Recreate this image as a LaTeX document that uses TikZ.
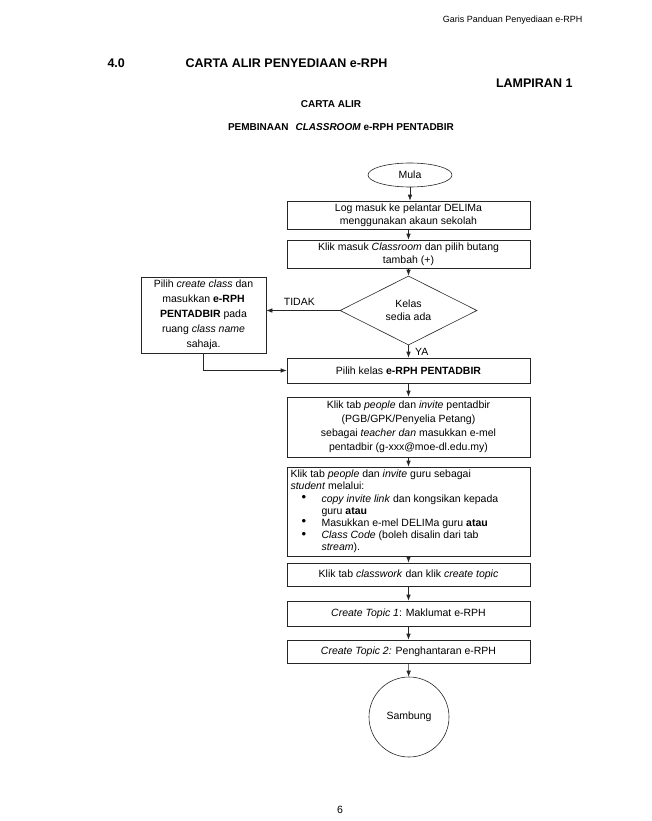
\documentclass[tikz,border=0pt]{standalone}
\usepackage{fontspec}
\setmainfont{Liberation Sans}
\usetikzlibrary{shapes.geometric,arrows.meta}
\newcommand{\bigbul}{\raisebox{0.5pt}{\fontsize{13}{13}\selectfont\textbullet}}
\begin{document}
\begin{tikzpicture}[x=1pt,y=-1pt,
  every node/.style={font=\fontsize{10.5}{13}\selectfont},
  procbox/.style={draw=black!85,line width=0.6pt,rectangle,inner sep=0pt,minimum width=243pt,align=center},
  conn/.style={draw=black!85,line width=0.6pt,-{Latex[length=6pt,width=4.5pt]}},
  titlefont/.style={font=\fontsize{12.5}{15}\selectfont\bfseries},
  subfont/.style={font=\fontsize{10}{12}\selectfont\bfseries}]
\useasboundingbox (0,0) rectangle (652,821);
% header texts
\node[anchor=east,font=\fontsize{9}{11}\selectfont] (hdr) at (586,20) {Garis Panduan Penyediaan e-RPH};
\node[anchor=west,titlefont] (num) at (104,63) {4.0};
\node[anchor=west,titlefont] (ttl) at (182,63) {CARTA ALIR PENYEDIAAN e-RPH};
\node[anchor=east,titlefont] (lamp) at (576,83) {LAMPIRAN 1};
\node[subfont] (ca) at (331,104) {CARTA ALIR};
\node[subfont] (pemb) at (341,127) {PEMBINAAN\hspace{7pt}\textit{CLASSROOM} e-RPH PENTADBIR};
% flowchart
\node[draw=black!85,line width=0.6pt,ellipse,minimum width=84pt,minimum height=24pt,inner sep=0pt] (mula) at (410,175) {Mula};
\node[procbox,minimum height=28pt] (b1) at (408.5,215) {Log masuk ke pelantar DELIMa\\menggunakan akaun sekolah};
\node[procbox,minimum height=28pt] (b2) at (408.5,254) {Klik masuk \textit{Classroom} dan pilih butang\\tambah (+)};
\node[draw=black!85,line width=0.6pt,diamond,minimum width=137pt,minimum height=69pt,inner sep=0pt,align=center] (dec) at (408.5,310.5) {Kelas\\sedia ada};
\node[draw=black!85,line width=0.6pt,rectangle,minimum width=125pt,minimum height=76pt,inner sep=0pt,align=center,font=\fontsize{10.5}{15}\selectfont] (lb) at (203.5,315) {\raisebox{-2pt}{\parbox{120pt}{\centering Pilih \textit{create class} dan\\masukkan \textbf{e-RPH}\\\textbf{PENTADBIR} pada\\ruang \textit{class name}\\sahaja.}}};
\node[procbox,minimum height=25pt] (b3) at (408.5,370.5) {Pilih kelas \textbf{e-RPH PENTADBIR}};
\node[procbox,minimum height=60pt,font=\fontsize{10.5}{14}\selectfont] (b4) at (408.5,427) {Klik tab \textit{people} dan \textit{invite} pentadbir\\(PGB/GPK/Penyelia Petang)\\sebagai \textit{teacher dan} masukkan e-mel\\pentadbir (g-xxx@moe-dl.edu.my)};
\node[procbox,minimum height=89pt,align=left,font=\fontsize{10.5}{12.2}\selectfont] (b5) at (408.5,511.5) {\parbox{236pt}{\raggedright
Klik tab \textit{people} dan \textit{invite} guru sebagai\\
\textit{student} melalui:\\
\hspace*{11pt}\makebox[20pt][l]{\bigbul}\textit{copy invite link} dan kongsikan kepada\\
\hspace*{31pt}guru \textbf{atau}\\
\hspace*{11pt}\makebox[20pt][l]{\bigbul}Masukkan e-mel DELIMa guru \textbf{atau}\\
\hspace*{11pt}\makebox[20pt][l]{\bigbul}\textit{Class Code} (boleh disalin dari tab\\
\hspace*{31pt}\textit{stream}).}};
\node[procbox,minimum height=23pt] (b6) at (408.5,574.5) {Klik tab \textit{classwork} dan klik \textit{create topic}};
\node[procbox,minimum height=25pt] (b7) at (408.5,613.5) {\textit{Create Topic 1}: Maklumat e-RPH};
\node[procbox,minimum height=23pt] (b8) at (408.5,651.5) {\textit{Create Topic 2:} Penghantaran e-RPH};
\node[draw=black!85,line width=0.6pt,ellipse,minimum width=80pt,minimum height=80pt,inner sep=0pt] (samb) at (409,717) {Sambung};
% connectors
\draw[conn] (mula) -- (b1.north -| mula);
\draw[conn] (b1) -- (b2);
\draw[conn] (b2) -- (dec);
\draw[conn] (dec.west) -- node[above,pos=0.55,yshift=1pt] (tidak) {TIDAK} (lb.east |- dec.west);
\draw[conn] (dec.south) -- node[right,pos=0.55,xshift=3pt] (ya) {YA} (b3.north -| dec.south);
\coordinate (lbc) at (lb.south |- b3.west);
\draw[conn] (lb.south) -- (lbc) -- (b3.west);
\draw[conn] (b3) -- (b4);
\draw[conn] (b4) -- (b5);
\draw[conn] (b5) -- (b6);
\draw[conn] (b6) -- (b7);
\draw[conn] (b7) -- (b8);
\draw[conn] (b8) -- (samb);
\node (pg) at (340,810) {6};
\end{tikzpicture}
\end{document}
